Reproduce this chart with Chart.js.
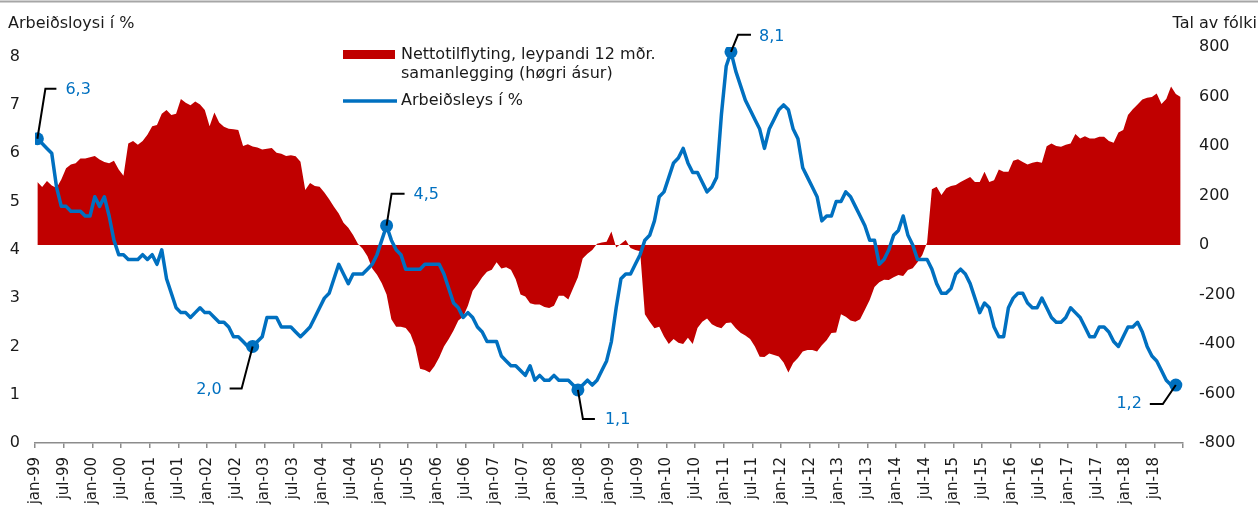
<!DOCTYPE html>
<html><head><meta charset="utf-8">
<script src="https://cdn.jsdelivr.net/npm/chart.js@4.4.1/dist/chart.umd.min.js"></script>
<style>html,body{margin:0;padding:0;background:#fff;overflow:hidden}#wrap{position:relative;width:1258px;height:510px}</style>
</head><body><div id="wrap"><canvas id="c" width="1258" height="510"></canvas></div>
<script>
// ---- DATA ----
const tickLabels = ['jan-99','jul-99','jan-00','jul-00','jan-01','jul-01','jan-02','jul-02','jan-03','jul-03',
  'jan-04','jul-04','jan-05','jul-05','jan-06','jul-06','jan-07','jul-07','jan-08','jul-08',
  'jan-09','jul-09','jan-10','jul-10','jan-11','jul-11','jan-12','jul-12','jan-13','jul-13',
  'jan-14','jul-14','jan-15','jul-15','jan-16','jul-16','jan-17','jul-17','jan-18','jul-18'];

// Arbeiðsleys í % (monthly, jan-99 .. dec-18)
const unemployment = [
 6.3,6.2,6.1,6.0,5.3,4.9,4.9,4.8,4.8,4.8,4.7,4.7,
 5.1,4.9,5.1,4.7,4.2,3.9,3.9,3.8,3.8,3.8,3.9,3.8,
 3.9,3.7,4.0,3.4,3.1,2.8,2.7,2.7,2.6,2.7,2.8,2.7,
 2.7,2.6,2.5,2.5,2.4,2.2,2.2,2.1,2.0,2.0,2.1,2.2,
 2.6,2.6,2.6,2.4,2.4,2.4,2.3,2.2,2.3,2.4,2.6,2.8,
 3.0,3.1,3.4,3.7,3.5,3.3,3.5,3.5,3.5,3.6,3.7,3.9,
 4.2,4.5,4.2,4.0,3.9,3.6,3.6,3.6,3.6,3.7,3.7,3.7,
 3.7,3.5,3.2,2.9,2.8,2.6,2.7,2.6,2.4,2.3,2.1,2.1,
 2.1,1.8,1.7,1.6,1.6,1.5,1.4,1.6,1.3,1.4,1.3,1.3,
 1.4,1.3,1.3,1.3,1.2,1.1,1.2,1.3,1.2,1.3,1.5,1.7,
 2.1,2.8,3.4,3.5,3.5,3.7,3.9,4.2,4.3,4.6,5.1,5.2,
 5.5,5.8,5.9,6.1,5.8,5.6,5.6,5.4,5.2,5.3,5.5,6.8,
 7.8,8.1,7.7,7.4,7.1,6.9,6.7,6.5,6.1,6.5,6.7,6.9,
 7.0,6.9,6.5,6.3,5.7,5.5,5.3,5.1,4.6,4.7,4.7,5.0,
 5.0,5.2,5.1,4.9,4.7,4.5,4.2,4.2,3.7,3.8,4.0,4.3,
 4.4,4.7,4.3,4.1,3.8,3.8,3.8,3.6,3.3,3.1,3.1,3.2,
 3.5,3.6,3.5,3.3,3.0,2.7,2.9,2.8,2.4,2.2,2.2,2.8,
 3.0,3.1,3.1,2.9,2.8,2.8,3.0,2.8,2.6,2.5,2.5,2.6,
 2.8,2.7,2.6,2.4,2.2,2.2,2.4,2.4,2.3,2.1,2.0,2.2,
 2.4,2.4,2.5,2.3,2.0,1.8,1.7,1.5,1.3,1.2,1.2,null];

// Nettotilflyting, leypandi 12 mðr. samanlegging
const netMigration = [
 255,234,259,240,230,265,310,325,330,350,350,355,
 360,345,335,330,340,305,280,410,420,405,420,445,
 480,485,530,545,525,530,590,575,565,580,568,545,
 480,535,495,478,470,468,465,400,407,398,394,386,
 389,392,373,369,360,363,359,336,222,251,238,235,
 212,185,155,127,90,70,40,5,-15,-45,-95,-120,
 -155,-200,-300,-330,-330,-335,-360,-410,-500,-505,-515,-490,
 -455,-410,-380,-345,-305,-290,-245,-185,-160,-130,-108,-100,
 -70,-95,-90,-100,-138,-200,-208,-235,-240,-240,-250,-255,
 -245,-205,-205,-220,-175,-130,-55,-35,-20,5,10,13,
 55,-10,5,20,-12,-20,-25,-280,-310,-336,-330,-370,
 -400,-380,-395,-400,-375,-400,-335,-310,-297,-320,-330,-336,
 -315,-313,-336,-355,-366,-380,-410,-452,-453,-438,-444,-450,
 -475,-515,-477,-457,-430,-424,-424,-430,-405,-385,-356,-354,
 -280,-290,-305,-310,-300,-262,-222,-170,-150,-140,-141,-130,
 -121,-125,-101,-94,-70,-40,10,225,235,202,229,238,
 242,255,265,275,255,255,296,255,262,305,296,296,
 340,346,335,325,332,336,332,399,410,400,397,405,
 410,448,430,439,430,430,437,437,420,413,455,465,
 525,548,568,588,595,598,612,570,590,640,610,598];

const labelledPoints = [0,45,73,113,145,238];

// ---- STYLE ----
const FONT = "'DejaVu Sans', Verdana, sans-serif";
const BLUE = '#0070C0', RED = '#C00000', TXT = '#1a1a1a', AXIS = '#8c8c8c';
const calloutStyle = [
 {elbow:[8,-50],  end:[19,-50], text:[28,-49], align:'left'},
 {elbow:[-11,42], end:[-23,42], text:[-31,43], align:'right'},
 {elbow:[5,-32],  end:[18,-32], text:[27,-31], align:'left'},
 {elbow:[5,29],   end:[17,29],  text:[27,30],  align:'left'},
 {elbow:[7,-17],  end:[20,-17], text:[28,-15], align:'left'},
 {elbow:[-13,19], end:[-26,19], text:[-34,19], align:'right'}
];

Chart.defaults.font.family = FONT;
Chart.defaults.font.size = 16;
Chart.defaults.color = TXT;

const overlay = {
  id:'overlay',
  afterDatasetsDraw(chart){
    const c = chart.ctx, xs = chart.scales.x, ys = chart.scales.y;
    c.save();
    labelledPoints.forEach((idx,k)=>{
      const st = calloutStyle[k];
      const px = xs.getPixelForValue(idx+0.5), py = ys.getPixelForValue(unemployment[idx]);
      c.strokeStyle = '#000'; c.lineWidth = 2; c.lineJoin='miter';
      c.beginPath(); c.moveTo(px,py); c.lineTo(px+st.elbow[0],py+st.elbow[1]); c.lineTo(px+st.end[0],py+st.end[1]); c.stroke();
      c.fillStyle = BLUE; c.font = '16px '+FONT; c.textAlign = st.align; c.textBaseline='middle';
      c.fillText(unemployment[idx].toFixed(1).replace('.',','), px+st.text[0], py+st.text[1]);
    });
    c.restore();
  },
  afterDraw(chart){
    const c = chart.ctx;
    c.save();
    c.strokeStyle='#a6a6a6'; c.lineWidth=2;
    c.beginPath(); c.moveTo(0,1.5); c.lineTo(1258,1.5); c.stroke();
    c.fillStyle=TXT; c.font='16px '+FONT; c.textBaseline='middle';
    c.textAlign='left'; c.fillText('Arbeiðsloysi í %', 8, 24);
    c.textAlign='right'; c.fillText('Tal av fólki', 1257, 24);
    c.fillStyle=RED; c.fillRect(343,50,52,9);
    c.strokeStyle=BLUE; c.lineWidth=3.5; c.lineCap='butt';
    c.beginPath(); c.moveTo(343,101); c.lineTo(397,101); c.stroke();
    c.fillStyle=TXT; c.textAlign='left';
    c.fillText('Nettotilflyting, leypandi 12 mðr.', 401, 55);
    c.fillText('samanlegging (høgri ásur)', 401, 74);
    c.fillText('Arbeiðsleys í %', 401, 101);
    c.restore();
  }
};

new Chart(document.getElementById('c'), {
  type:'line',
  data:{datasets:[
    {label:'Arbeiðsleys í %', yAxisID:'y', order:0,
     data: unemployment.map((v,i)=>({x:i+0.5,y:v})),
     borderColor:BLUE, borderWidth:3.5, tension:0, fill:false, borderJoinStyle:'round',
     pointRadius:(ctx)=>labelledPoints.includes(ctx.dataIndex)?6.5:0,
     pointBackgroundColor:BLUE, pointBorderWidth:0, pointHoverRadius:0},
    {label:'Nettotilflyting, leypandi 12 mðr. samanlegging (høgri ásur)', yAxisID:'y1', order:1,
     data: netMigration.map((v,i)=>({x:i+0.5,y:v})),
     backgroundColor:RED, borderColor:RED, borderWidth:0, fill:'origin', pointRadius:0, tension:0}
  ]},
  options:{
    responsive:false, animation:false, events:[],
    layout:{padding:{top:47,left:0,right:0,bottom:0}},
    plugins:{legend:{display:false}, tooltip:{enabled:false}},
    scales:{
      x:{type:'linear', min:0, max:240,
         ticks:{stepSize:6, autoSkip:false, maxRotation:90, minRotation:90, padding:9, font:{size:15},
                callback:(v)=> (v%6===0 && tickLabels[v/6]) ? tickLabels[v/6] : ''},
         grid:{display:true, drawOnChartArea:false, drawTicks:true, tickLength:5, color:AXIS, lineWidth:1.5},
         border:{display:true, color:AXIS, width:1.5},
         afterFit(s){ s.height = 67; }},
      y:{position:'left', min:0, max:8.2,
         ticks:{stepSize:1, includeBounds:false, padding:15},
         grid:{display:false, drawTicks:false}, border:{display:false},
         afterFit(s){ s.width = 35; }},
      y1:{position:'right', min:-800, max:800,
         ticks:{stepSize:200, padding:16},
         grid:{display:false, drawTicks:false}, border:{display:false},
         afterFit(s){ s.width = 75; }}
    }
  },
  plugins:[overlay]
});
</script>
</body></html>
